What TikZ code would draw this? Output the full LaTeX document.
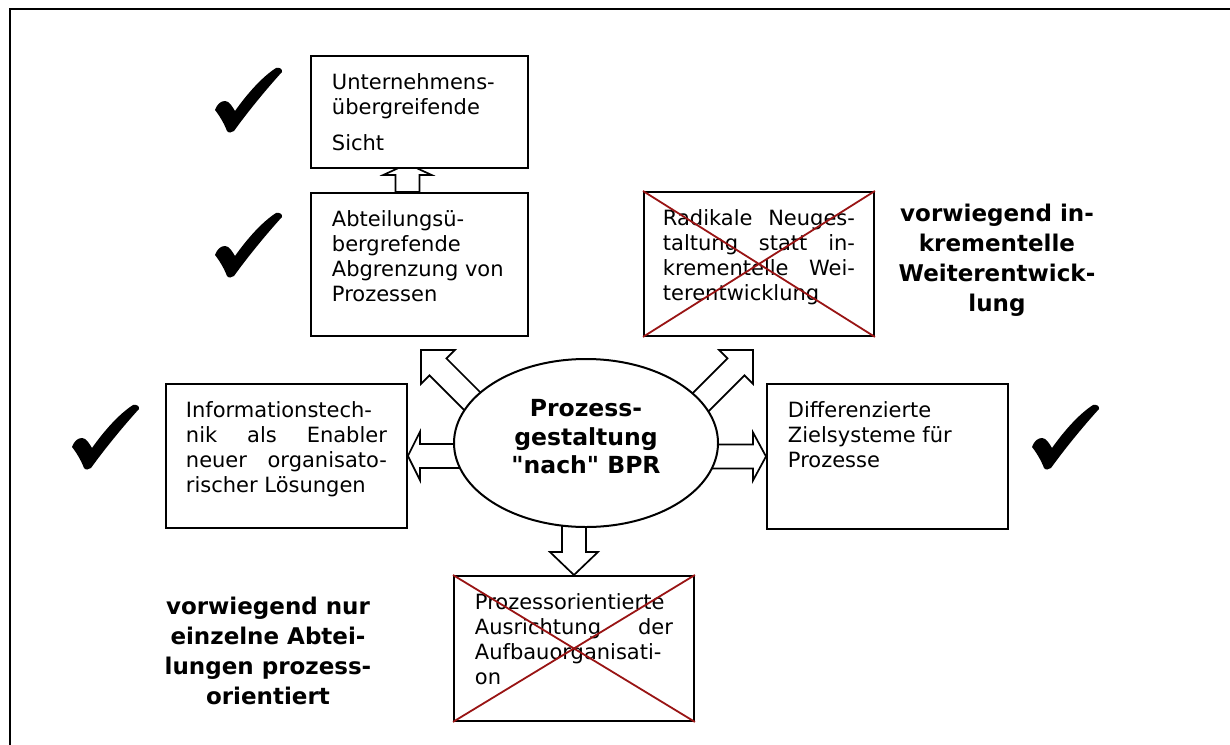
\documentclass[tikz,border=0pt]{standalone}
\usepackage{fontspec}
\setmainfont{DejaVu Sans}
\usepackage{xcolor}
\usepackage{tikz}
\usetikzlibrary{calc,shapes.geometric,backgrounds}
\definecolor{streichrot}{RGB}{153,20,20}
\tikzset{
  kasten/.style={
    rectangle,
    anchor=north west,
    draw=black,
    line width=1.9pt,
    fill=white,
    inner xsep=21pt,
    inner ysep=18pt,
    font=\fontsize{21}{25}\selectfont,
  },
  kern/.style={
    ellipse,
    draw=black,
    line width=2pt,
    fill=white,
    minimum width=264pt,
    minimum height=168pt,
    inner sep=0pt,
  },
  kerntext/.style={align=center, font=\bfseries\fontsize{23.5}{28.5}\selectfont},
  fazit/.style={align=center, font=\bfseries\fontsize{23}{30}\selectfont},
  streichung/.style={draw=streichrot, line width=1.8pt},
  blockpfeil/.style={
    draw=black,
    line width=1.7pt,
    fill=white,
    to path={
      ($(\tikztostart)!12pt!90:(\tikztotarget)$)
      -- ($($(\tikztotarget)!#1!(\tikztostart)$)!12pt!90:(\tikztotarget)$)
      -- ($($(\tikztotarget)!#1!(\tikztostart)$)!24pt!90:(\tikztotarget)$)
      -- (\tikztotarget)
      -- ($($(\tikztotarget)!#1!(\tikztostart)$)!24pt!-90:(\tikztotarget)$)
      -- ($($(\tikztotarget)!#1!(\tikztostart)$)!12pt!-90:(\tikztotarget)$)
      -- ($(\tikztostart)!12pt!-90:(\tikztotarget)$)
      -- cycle
    },
  },
  blockpfeil/.default=24pt,
  haken/.pic={
    \fill (0,42) .. controls (2,36) and (6,33) .. (10,33)
      .. controls (14,33) and (17,38) .. (20,43)
      .. controls (32,26) and (47,9) .. (61,0)
      .. controls (64,-1) and (68,1) .. (67,4)
      .. controls (55,17) and (34,42) .. (19,63)
      .. controls (17,65) and (13,65) .. (12,63)
      .. controls (9,55) and (4,47) .. (0,42) -- cycle;
  },
}

\begin{document}
\begin{tikzpicture}[x=1pt,y=-1pt]
  \useasboundingbox (0,0) rectangle (1230,744);
  \draw[line width=2.7pt] (1232,9) -- (10,9) -- (10,746);

  % Kästen
  \node[kasten] (sicht) at (310,55)
    {\parbox[c][76pt][t]{175pt}{Unternehmens-\\übergreifende\\[11pt]Sicht}};
  \node[kasten] (abteilung) at (310,192)
    {\parbox[c][107pt][t]{175pt}{Abteilungsü-\\bergrefende\\Abgrenzung von\\Prozessen}};
  \node[kasten,inner xsep=19pt] (radikal) at (643,191)
    {\parbox[c][108pt][t]{192pt}{Radikale Neuges-\linebreak taltung statt in-\linebreak krementelle Wei-\linebreak terentwicklung}};
  \node[kasten,inner xsep=20pt] (infotech) at (165,383)
    {\parbox[c][108pt][t]{201pt}{Informationstech-\linebreak nik als Enabler\linebreak neuer organisato-\linebreak rischer Lösungen}};
  \node[kasten] (ziele) at (766,383)
    {\parbox[c][109pt][t]{199pt}{Differenzierte\\Zielsysteme für\\Prozesse}};
  \node[kasten] (aufbau) at (453,575)
    {\parbox[c][109pt][t]{198pt}{Prozessorientierte\linebreak Ausrichtung der\linebreak Aufbauorganisati-\linebreak on}};

  \node[kern] (kern) at (586,443) {};
  \node[kerntext,yshift=6pt] (kernText) at (kern.center)
    {Prozess-\\gestaltung\\\textquotedbl nach\textquotedbl{} BPR};

  \node[fazit] (inkrementell) at (997,260) {vorwiegend in-\\krementelle\\Weiterentwick-\\lung};
  \node[fazit] (abteilungen) at (268,651) {vorwiegend nur\\einzelne Abtei-\\lungen prozess-\\orientiert};

  % Pfeile hinter den Kästen
  \coordinate (hochA) at ($(abteilung.north)+(-12,0)$);
  \coordinate (hochB) at ($(sicht.south)+(-12,-5)$);
  \coordinate (linksA) at (kern.center |- infotech.east);
  \coordinate (rechtsA) at (kern.center |- ziele.west);
  \coordinate (untenA) at (kern.center -| aufbau.north);
  \coordinate (diagL) at ($(abteilung.south)+(1.5,13)$);
  \coordinate (diagLA) at ($(diagL)+(80,80)$);
  \coordinate (diagR) at ($(radikal.south)+(-6,13)$);
  \coordinate (diagRA) at ($(diagR)+(-80,80)$);
  \begin{pgfonlayer}{background}
    \draw[blockpfeil=11pt] (hochA) to (hochB);
    \draw[blockpfeil=12pt] (linksA) to (infotech.east);
    \draw[blockpfeil=13pt] (rechtsA) to (ziele.west);
    \draw[blockpfeil=23pt] (untenA) to (aufbau.north);
    \draw[blockpfeil] (diagLA) to (diagL);
    \draw[blockpfeil] (diagRA) to (diagR);
  \end{pgfonlayer}

  % gestrichen
  \draw[streichung] (radikal.north west) -- (radikal.south east)
    (radikal.south west) -- (radikal.north east);
  \draw[streichung] (aufbau.north west) -- (aufbau.south east)
    (aufbau.south west) -- (aufbau.north east);

  % Haken
  \pic (hakenSicht) at (215,68) {haken};
  \pic (hakenAbteilung) at (215,213) {haken};
  \pic (hakenInfo) at (72,405) {haken};
  \pic (hakenZiele) at (1032,405) {haken};
\end{tikzpicture}
\end{document}
